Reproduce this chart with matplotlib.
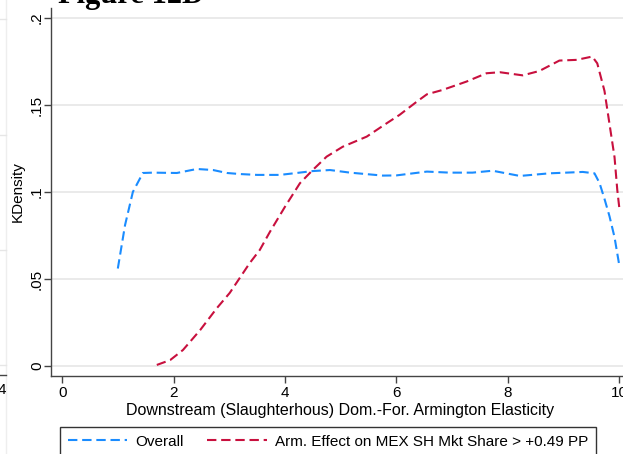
import matplotlib
matplotlib.use("Agg")
import matplotlib.pyplot as plt
from matplotlib.lines import Line2D

plt.rcParams['font.family'] = ['Liberation Sans', 'DejaVu Sans']

# Overall kernel density
overall_x = [1.00, 1.13, 1.27, 1.45, 1.63, 2.06, 2.42, 2.71, 2.96, 3.19, 3.50, 3.91,
             4.21, 4.50, 4.81, 5.17, 5.76, 6.00, 6.55, 6.96, 7.37, 7.73, 8.22, 8.75,
             9.35, 9.56, 9.65, 9.74, 9.83, 9.92, 10.01]
overall_y = [0.056, 0.081, 0.100, 0.1109, 0.1111, 0.1109, 0.1132, 0.1126, 0.1109, 0.1103,
             0.1098, 0.1098, 0.1109, 0.1120, 0.1126, 0.1111, 0.1094, 0.1095, 0.1117, 0.1111,
             0.1111, 0.1122, 0.1092, 0.1107, 0.1115, 0.1107, 0.1052, 0.0960, 0.0860, 0.0740,
             0.0570]

# Arm. effect kernel density
arm_x = [1.70, 1.94, 2.17, 2.48, 2.78, 3.01, 3.19, 3.37, 3.55, 3.73, 4.00, 4.27, 4.50,
         4.75, 5.04, 5.47, 5.83, 6.06, 6.37, 6.55, 6.83, 7.26, 7.62, 7.86, 8.27, 8.57,
         8.93, 9.24, 9.52, 9.61, 9.74, 9.83, 9.92, 9.97, 10.01]
arm_y = [0.0006, 0.0034, 0.0092, 0.0207, 0.0333, 0.0420, 0.0506, 0.0592, 0.0667, 0.0770,
         0.0914, 0.1050, 0.1126, 0.1203, 0.1260, 0.1318, 0.1395, 0.1443, 0.1519, 0.1561,
         0.1586, 0.1634, 0.1682, 0.1688, 0.1670, 0.1695, 0.1755, 0.1759, 0.1778, 0.1739,
         0.1580, 0.1390, 0.1200, 0.1010, 0.0897]

xticks = [0, 2, 4, 6, 8, 10]
yticks = [0, 0.05, 0.1, 0.15, 0.2]
ytick_labels = ["0", ".05", ".1", ".15", ".2"]

blue = "#1a8cff"
red = "#c8103e"
axis_col = "#444444"
dash = (0, (4.5, 2.3))

fig = plt.figure(figsize=(6.23, 4.54), dpi=100)
ax = fig.add_axes([51 / 623, 78 / 454, 578 / 623, 368 / 454])

ax.plot(overall_x, overall_y, color=blue, lw=1.5, linestyle=dash, label="Overall")
ax.plot(arm_x, arm_y, color=red, lw=1.5, linestyle=dash,
        label="Arm. Effect on MEX SH Mkt Share > +0.49 PP")

ax.set_xlim(-0.2, 10.18)
ax.set_ylim(-0.00575, 0.2057)
ax.set_xticks(xticks)
ax.set_yticks(yticks)
ax.set_yticklabels(ytick_labels, rotation=90, va="center")
ax.tick_params(axis="both", labelsize=11, color=axis_col, length=5, width=1)
ax.tick_params(axis="x", pad=2)
ax.tick_params(axis="y", pad=0)
ax.grid(axis="y", color="#e6e6e6", lw=1.2)
ax.set_axisbelow(True)
for side in ["top", "right"]:
    ax.spines[side].set_visible(False)
for side in ["left", "bottom"]:
    ax.spines[side].set_color(axis_col)
    ax.spines[side].set_linewidth(1)

ax.set_xlabel("Downstream (Slaughterhous) Dom.-For. Armington Elasticity", fontsize=11.5, labelpad=2)
ax.set_ylabel("KDensity", fontsize=11, labelpad=4)

leg = fig.legend(loc="upper left", bbox_to_anchor=(60 / 623, 1 - 427 / 454), ncol=2,
                 fontsize=11, handlelength=3.9, handletextpad=0.55, columnspacing=1.5,
                 borderpad=0.5, borderaxespad=0, fancybox=False, framealpha=1,
                 edgecolor="#333333")
leg.get_frame().set_linewidth(1)

# cut-off title at the top of the crop
fig.text(131 / 623, 1 - 3 / 454, "Figure 12D", ha="center", va="baseline",
         fontsize=22, fontweight="bold", family="Liberation Serif")

# edge of the neighbouring panel on the left
fig.add_artist(Line2D([6 / 623, 6 / 623], [0, 1], color="#eeeeee", lw=1))
for yy in [19, 135, 250, 365]:
    fig.add_artist(Line2D([0, 6 / 623], [1 - yy / 454] * 2, color="#e6e6e6", lw=1))
fig.add_artist(Line2D([0, 6 / 623], [1 - 375 / 454] * 2, color=axis_col, lw=1))
fig.text(2 / 623, 1 - 390 / 454, "4", ha="center", va="center", fontsize=11)

fig.savefig("out.png", dpi=100)
